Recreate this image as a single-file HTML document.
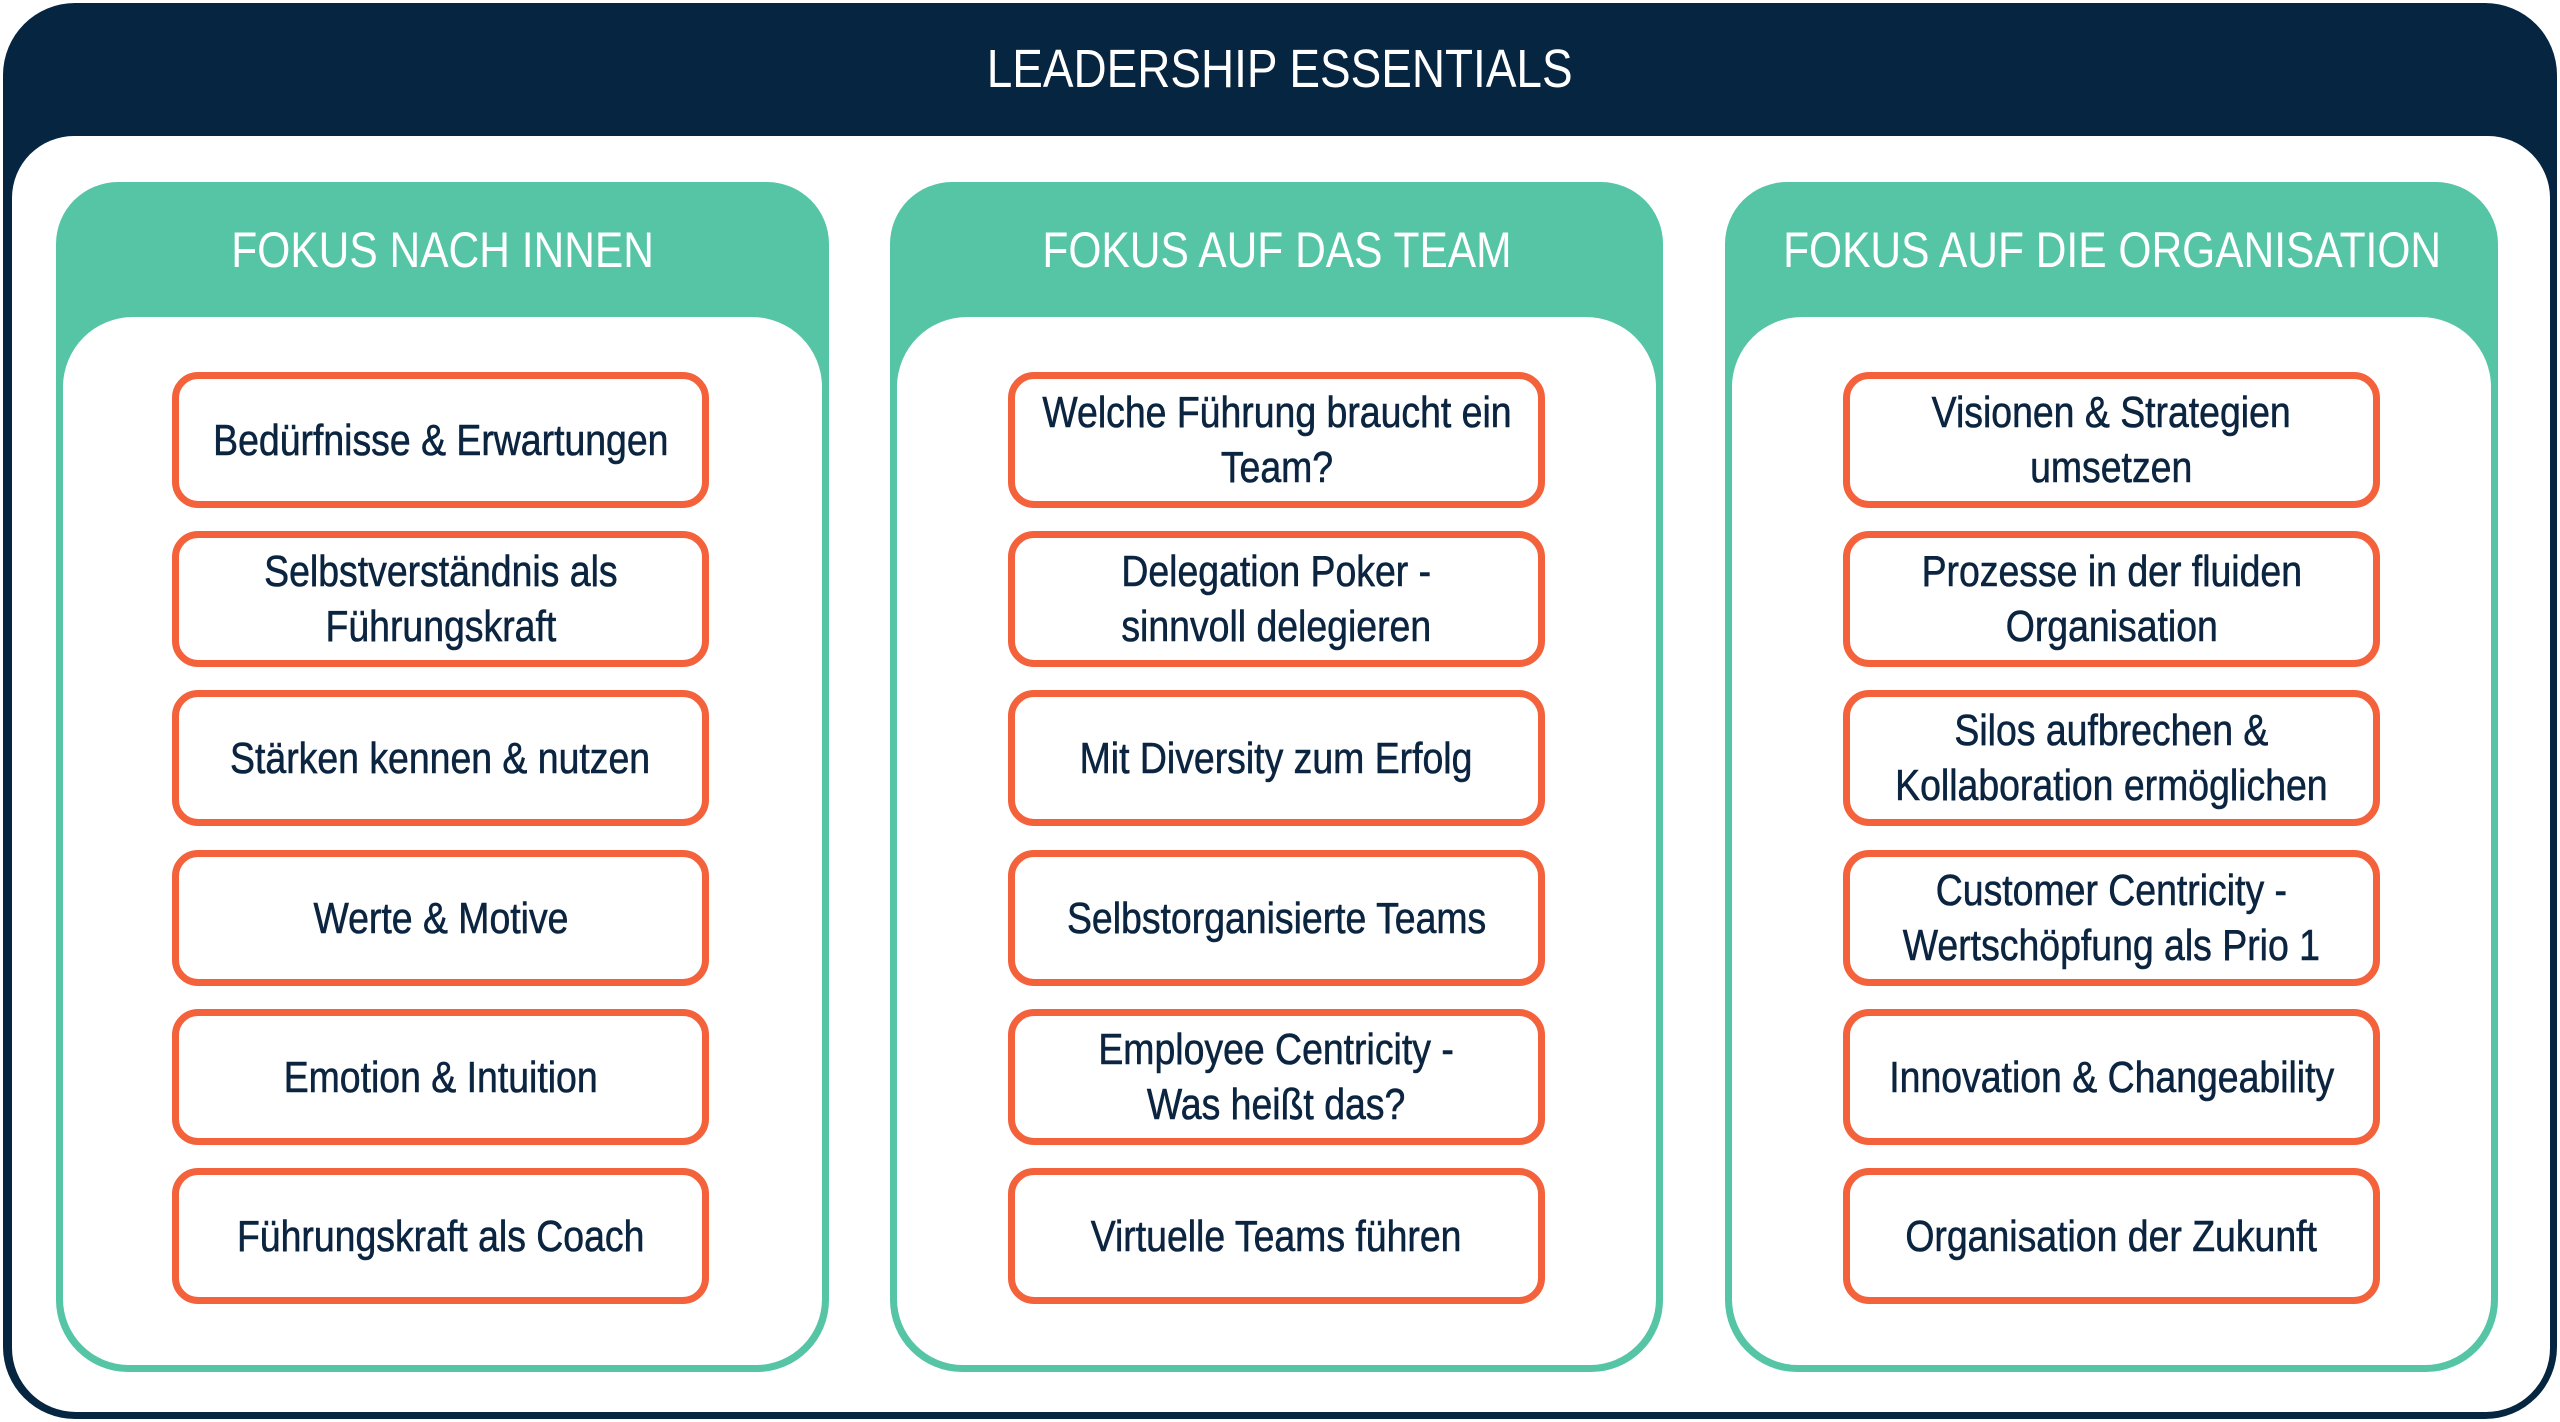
<!DOCTYPE html>
<html><head><meta charset="utf-8"><style>
*{margin:0;padding:0;box-sizing:border-box}
html,body{width:2560px;height:1422px;background:#fff;overflow:hidden;font-family:"Liberation Sans",Arial,sans-serif}
.frame{position:absolute;left:3px;top:3px;width:2554px;height:1416px;background:#062540;border-radius:72px;}
.white{position:absolute;left:9px;top:133px;right:7px;bottom:7px;background:#fff;border-radius:62px 62px 64px 64px}
.title{position:absolute;left:0;top:34px;width:2560px;text-align:center;color:#fff;font-size:54px;line-height:70px}
.t{display:inline-block;transform:scaleX(.85);white-space:nowrap}
.col{position:absolute;top:182px;width:773px;height:1190px;background:#55C5A6;border-radius:62px 62px 72px 72px}
.col .inner{position:absolute;left:7px;right:7px;top:135px;bottom:7px;background:#fff;border-radius:70px 70px 66px 66px}
.col .hd{position:absolute;left:0;right:0;top:40px;text-align:center;color:#fff;font-size:50px;line-height:56px}
.box{position:absolute;width:537px;height:136px;border:7px solid #F4623C;border-radius:26px;background:#fff;display:flex;align-items:center;justify-content:center;text-align:center;color:#0B2440;font-size:44px;line-height:55px;-webkit-text-stroke:0.6px #0B2440}
</style></head><body>
<div class="frame"><div class="white"></div></div>
<div class="title"><span class="t">LEADERSHIP ESSENTIALS</span></div>

<div class="col" style="left:56px"><div class="inner"></div><div class="hd"><span class="t">FOKUS NACH INNEN</span></div></div>
<div class="col" style="left:890px"><div class="inner"></div><div class="hd"><span class="t">FOKUS AUF DAS TEAM</span></div></div>
<div class="col" style="left:1725px"><div class="inner"></div><div class="hd"><span class="t">FOKUS AUF DIE ORGANISATION</span></div></div>

<div class="box" style="left:172px;top:372px"><span class="t">Bedürfnisse &amp; Erwartungen</span></div>
<div class="box" style="left:172px;top:531px"><span class="t">Selbstverständnis als<br>Führungskraft</span></div>
<div class="box" style="left:172px;top:690px"><span class="t">Stärken kennen &amp; nutzen</span></div>
<div class="box" style="left:172px;top:850px"><span class="t">Werte &amp; Motive</span></div>
<div class="box" style="left:172px;top:1009px"><span class="t">Emotion &amp; Intuition</span></div>
<div class="box" style="left:172px;top:1168px"><span class="t">Führungskraft als Coach</span></div>

<div class="box" style="left:1008px;top:372px"><span class="t">Welche Führung braucht ein<br>Team?</span></div>
<div class="box" style="left:1008px;top:531px"><span class="t">Delegation Poker -<br>sinnvoll delegieren</span></div>
<div class="box" style="left:1008px;top:690px"><span class="t">Mit Diversity zum Erfolg</span></div>
<div class="box" style="left:1008px;top:850px"><span class="t">Selbstorganisierte Teams</span></div>
<div class="box" style="left:1008px;top:1009px"><span class="t">Employee Centricity -<br>Was heißt das?</span></div>
<div class="box" style="left:1008px;top:1168px"><span class="t">Virtuelle Teams führen</span></div>

<div class="box" style="left:1843px;top:372px"><span class="t">Visionen &amp; Strategien<br>umsetzen</span></div>
<div class="box" style="left:1843px;top:531px"><span class="t">Prozesse in der fluiden<br>Organisation</span></div>
<div class="box" style="left:1843px;top:690px"><span class="t">Silos aufbrechen &amp;<br>Kollaboration ermöglichen</span></div>
<div class="box" style="left:1843px;top:850px"><span class="t">Customer Centricity -<br>Wertschöpfung als Prio 1</span></div>
<div class="box" style="left:1843px;top:1009px"><span class="t">Innovation &amp; Changeability</span></div>
<div class="box" style="left:1843px;top:1168px"><span class="t">Organisation der Zukunft</span></div>
</body></html>
